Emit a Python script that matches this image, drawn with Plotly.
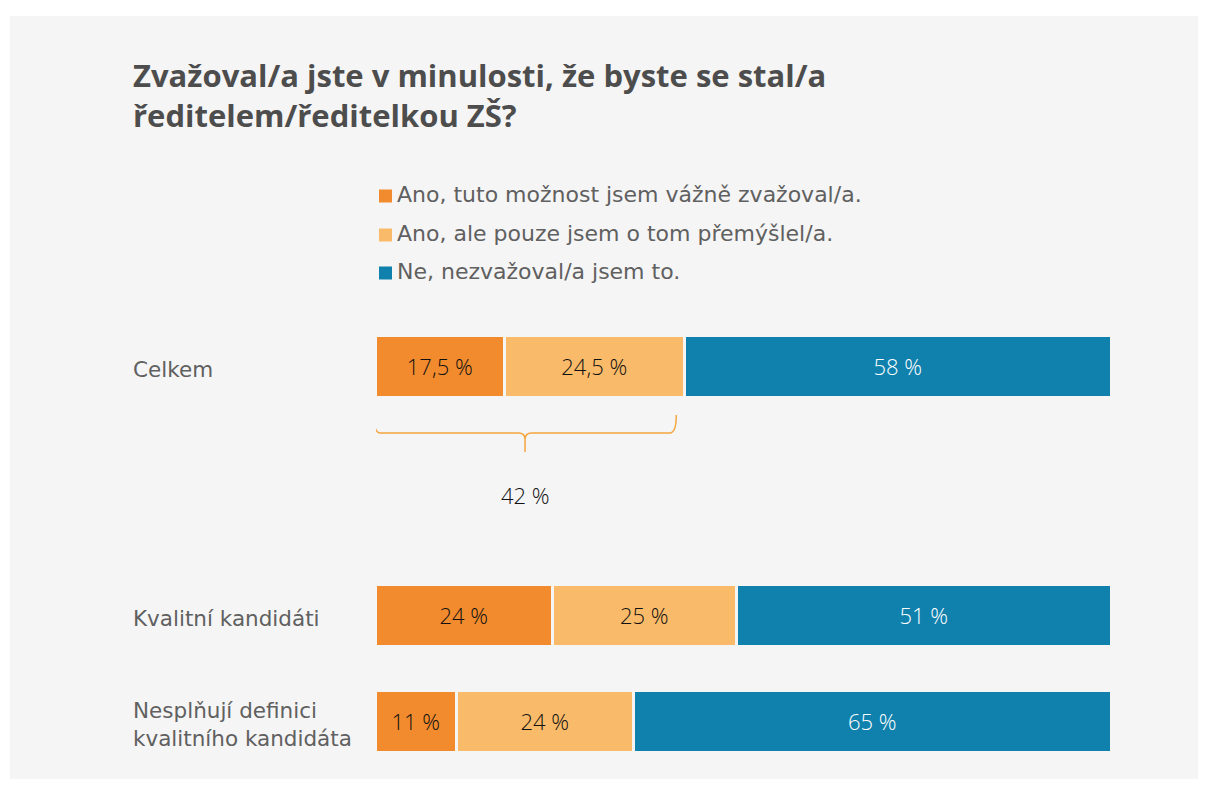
import plotly.graph_objects as go

# ---- data ----
categories = ["Celkem", "Kvalitní kandidáti", "Nesplňují definici<br>kvalitního kandidáta"]
series_names = [
    "Ano, tuto možnost jsem vážně zvažoval/a.",
    "Ano, ale pouze jsem o tom přemýšlel/a.",
    "Ne, nezvažoval/a jsem to.",
]
seriously = [17.5, 24, 11]
thought = [24.5, 25, 24]
no = [58, 51, 65]
title_text = "Zvažoval/a jste v minulosti, že byste se stal/a<br>ředitelem/ředitelkou ZŠ?"

# ---- layout / style ----
OFF = 8                      # browser body margin
W, H = 1206 - OFF, 787 - 2 * OFF
L_PX, R_PX = 376, 1112       # reference page pixels
T_PX, B_PX = 300, 775
ROW_Y = [0, 2.349, 3.349]    # row positions (layout), 1 unit = 106 px
UNIT = 106.0
ROW0_PX = 367.0
colors = ["#f18b2e", "#f9bb69", "#1081ad"]
text_colors = ["#111111", "#111111", "#ffffff"]
BG = "#f5f5f5"
GRAY_TEXT = "#606060"
FONT = "Open Sans"
LABEL_FONT = "DejaVu Sans"

def px_to_y(py):
    return (py - ROW0_PX) / UNIT

def px_to_paper_x(px):
    return (px - L_PX) / (R_PX - L_PX)

def px_to_paper_y(py):
    return (B_PX - py) / (B_PX - T_PX)

def fmt(v):
    return f"{v:g}".replace(".", ",") + " %"

fig = go.Figure()
for name, vals, col, tcol in zip(series_names, [seriously, thought, no], colors, text_colors):
    fig.add_trace(go.Bar(
        y=ROW_Y, x=vals, name=name, orientation="h",
        marker=dict(color=col, line=dict(color=BG, width=3.5)),
        width=0.585,
        text=[fmt(v) for v in vals], textposition="inside",
        insidetextanchor="middle",
        textfont=dict(family=FONT, size=22, color=tcol, weight=300),
        showlegend=False, hoverinfo="skip",
    ))

shapes = []
annotations = []

# panel background
shapes.append(dict(type="rect", xref="paper", yref="paper",
                   x0=px_to_paper_x(10), x1=px_to_paper_x(1230),
                   y0=px_to_paper_y(800), y1=px_to_paper_y(16),
                   fillcolor=BG, line=dict(width=0), layer="below"))

# custom legend
leg_y = [196.0, 235.0, 273.0]
for name, col, py in zip(series_names, colors, leg_y):
    shapes.append(dict(type="rect", xref="paper", yref="paper",
                       x0=px_to_paper_x(379), x1=px_to_paper_x(392),
                       y0=px_to_paper_y(py + 6.5), y1=px_to_paper_y(py - 6.5),
                       fillcolor=col, line=dict(width=0)))
    annotations.append(dict(xref="paper", yref="paper",
                            x=px_to_paper_x(395), y=px_to_paper_y(py - 1.5),
                            text=name, showarrow=False, xanchor="left", yanchor="middle",
                            font=dict(family=LABEL_FONT, size=22, color=GRAY_TEXT)))

# category labels
for cat, ry in zip(categories, ROW_Y):
    annotations.append(dict(xref="paper", yref="y",
                            x=px_to_paper_x(131), y=ry + 0.02,
                            text=cat, showarrow=False, xanchor="left", yanchor="middle",
                            align="left",
                            font=dict(family=LABEL_FONT, size=21.5, color=GRAY_TEXT)))

# brace over "Ano" answers for Celkem
yes_total = seriously[0] + thought[0]
l = -0.3
r = yes_total - 1.2
m = (l + r) / 2
yt, yh, yb = px_to_y(415), px_to_y(433), px_to_y(452)
d, e = 0.9, 0.06
path = (f"M {l},{yt} Q {l},{yh} {l+d},{yh} L {m-d},{yh} Q {m},{yh} {m},{yh+e} L {m},{yb} "
        f"M {m},{yh+e} Q {m},{yh} {m+d},{yh} L {r-d},{yh} Q {r},{yh} {r},{yt}")
shapes.append(dict(type="path", xref="x", yref="y", path=path,
                   line=dict(color="#f5a53f", width=1.5)))
annotations.append(dict(xref="x", yref="y", x=m, y=px_to_y(495),
                        text=fmt(yes_total), showarrow=False,
                        xanchor="center", yanchor="middle",
                        font=dict(family=FONT, size=22, color="#111111", weight=300)))

fig.update_layout(
    width=W, height=H,
    barmode="stack", bargap=0,
    paper_bgcolor="#ffffff", plot_bgcolor=BG,
    margin=dict(l=L_PX - OFF, r=1206 - R_PX, t=T_PX - OFF, b=H - (B_PX - OFF), pad=0),
    title=dict(text=title_text, x=(133 - OFF) / W, xref="container", xanchor="left",
               y=1 - (87 - OFF) / H, yref="container", yanchor="top",
               font=dict(family=FONT, size=31, color="#4d4d4d", weight="bold")),
    xaxis=dict(range=[0, 100], visible=False, fixedrange=True),
    yaxis=dict(range=[px_to_y(B_PX), px_to_y(T_PX)], visible=False, fixedrange=True),
    shapes=shapes, annotations=annotations,
    showlegend=False,
)

fig.write_html("out.html")
